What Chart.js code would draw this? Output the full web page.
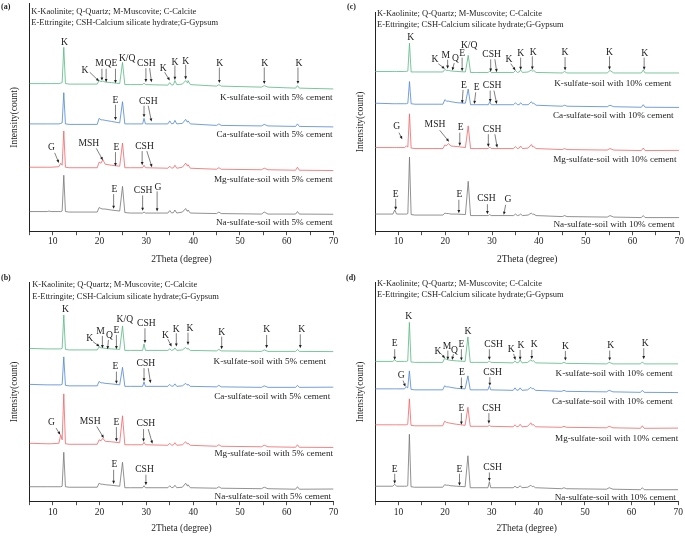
<!DOCTYPE html>
<html>
<head>
<meta charset="utf-8">
<script src="https://cdn.jsdelivr.net/npm/chart.js@4.4.1/dist/chart.umd.min.js"></script>
<style>
    body { margin: 0; background: #fff; width: 685px; height: 538px; position: relative; overflow: hidden; }
    canvas { position: absolute; }
</style>
</head>
<body>
<canvas id="pa" width="342" height="269" style="left:0;top:0"></canvas>
<canvas id="pc" width="343" height="269" style="left:342px;top:0"></canvas>
<canvas id="pb" width="342" height="269" style="left:0;top:269px"></canvas>
<canvas id="pd" width="343" height="269" style="left:342px;top:269px"></canvas>
<script>
// --- Data (2Theta in degree, intensity in arbitrary stacked counts) ---
const twoTheta = [5, 8.8, 9.2, 9.6, 11.3, 11.7, 12.0, 12.35, 12.7, 13.5,
    19.5, 19.9, 20.3, 20.7, 21.2, 22.5, 24.3, 24.9, 25.4, 26.6,
    29.2, 29.5, 29.8, 34.6, 35.0, 35.4, 35.8, 36.1, 36.5, 37.7,
    38.4, 38.7, 38.9, 39.4, 45.0, 45.5, 46.0, 54.6, 55.2, 56.0,
    61.9, 62.3, 62.7, 70];

const xTicks = [10, 20, 30, 40, 50, 60, 70];

const names5 = ['K-sulfate-soil with 5% cement', 'Ca-sulfate-soil with 5% cement',
    'Mg-sulfate-soil with 5% cement', 'Na-sulfate-soil with 5% cement'];
const names10 = ['K-sulfate-soil with 10% cement', 'Ca-sulfate-soil with 10% cement',
    'Mg-sulfate-soil with 10% cement', 'Na-sulfate-soil with 10% cement'];
const legendLines = ['K-Kaolinite; Q-Quartz; M-Muscovite; C-Calcite',
    'E-Ettringite; CSH-Calcium silicate hydrate;G-Gypsum'];

// (a) 5% cement
const aK5 = [147, 147, 147, 147, 147, 147.5, 148, 183, 147, 146.5,
    146.5, 150, 149, 149.5, 148.5, 148, 147, 168, 146, 146,
    146, 147.5, 146, 145.5, 148, 145.5, 146, 150, 146, 146.5,
    150, 148, 150, 146, 144.5, 146, 144.5, 143.5, 145, 143.5,
    142.5, 145, 142.5, 141.7];
const aCa5 = [107, 107, 107, 107, 107, 107.5, 108, 138, 107, 106.5,
    106.5, 112.5, 111, 111, 110.5, 109.5, 108, 129, 107, 107,
    107, 112.5, 107, 107, 110, 107, 107.5, 110.5, 107, 107.5,
    111.5, 109, 110, 107, 105.5, 107, 105.5, 105, 106.5, 105,
    104.5, 107, 104.5, 104];
const aMg5 = [64, 64, 64, 64, 64.5, 68, 66, 100, 64, 63.5,
    63.5, 69, 68, 71.5, 67, 66, 65, 88, 63.5, 63.5,
    63.5, 66, 63.5, 63, 65, 63, 63.5, 66, 63, 64,
    68, 65.5, 66.5, 63, 62, 63.5, 62, 61.5, 63, 61.5,
    61, 64, 61, 60.7];
const aNa5 = [20, 20, 20.5, 20, 20, 20, 20.5, 56, 20, 19.5,
    19.5, 24, 23, 22.5, 22.5, 21.5, 20.5, 45, 19, 18.5,
    18.5, 19.5, 18.5, 18.5, 21, 18.5, 19, 21.5, 18.5, 19.5,
    23, 20.5, 21.5, 18.5, 18, 19.5, 18, 17.5, 19.5, 17.5,
    17.5, 20, 17.5, 17.3];

// (b) 5% cement
const bK5 = [153.5, 153, 153, 153, 153, 153, 153.5, 187, 152.5, 152,
    152, 155, 154, 154, 153.5, 153, 152.5, 176, 151.5, 151.5,
    151.5, 158, 151.5, 151.5, 153, 151.5, 152, 154, 151.5, 152,
    154.5, 153, 153.5, 151.5, 151, 152.5, 151, 150.5, 152, 150.5,
    150.5, 152.5, 150.5, 150.3];
const bCa5 = [117.5, 117, 117, 117, 117, 117, 117.5, 145, 116.5, 116,
    116, 120.5, 119, 119, 118.5, 118, 117, 134.5, 115.5, 115.5,
    115.5, 120, 115.5, 115.5, 117.5, 115.5, 116, 118, 115.5, 116,
    118.5, 117, 117.5, 115.5, 115, 116.5, 115, 114.5, 116, 114.5,
    114.5, 116.5, 114.5, 114.7];
const bMg5 = [58.5, 58, 58, 58, 58.5, 67, 62, 108, 58, 57.5,
    57.5, 62, 61, 63.5, 60.5, 60, 59, 86, 57, 57,
    57, 59.5, 57, 56.5, 58.5, 56.5, 57, 59, 56.5, 57,
    60, 58, 58.5, 56.5, 55.5, 57, 55.5, 55, 56.5, 55,
    54.5, 57, 54.5, 54.3];
const bNa5 = [15, 15, 15, 15, 15, 15, 15.5, 49.5, 15, 14.5,
    14.5, 18.5, 17.5, 17.5, 17, 16.5, 15.5, 39.5, 14, 14,
    14, 16, 14, 14, 16, 14, 14.5, 16.5, 14, 14.5,
    18.5, 16, 17, 14, 13.5, 15, 13.5, 13, 14.5, 13,
    12.5, 15, 12.5, 12.7];

// (c) 10% cement
const cK10 = [159, 159, 159, 159, 159, 159, 159.5, 187, 158.5, 158.5,
    158.5, 161, 160, 160, 159.5, 159, 158.5, 175, 158, 158,
    158, 159.5, 158, 158, 160, 158, 158.5, 160.5, 158, 158.5,
    160.5, 159, 160, 158, 157.5, 159, 157.5, 157.5, 160, 157.5,
    157.5, 160.5, 157.5, 157.5];
const cCa10 = [127.5, 127, 127, 127, 127, 127, 127.5, 149, 127, 126.5,
    126.5, 131, 129.5, 129.5, 129, 128, 127.5, 141.5, 126, 126,
    126, 129, 126, 126, 128, 126, 126, 128, 126, 126,
    129, 127, 127.5, 125.5, 124.5, 125.5, 124.5, 124, 125.5, 124,
    123.5, 126, 123.5, 123.3];
const cMg10 = [83.5, 83.5, 83.5, 83.5, 83.5, 85, 84, 117, 83, 82.5,
    82.5, 86, 85.5, 87.5, 85, 84.5, 83.5, 105, 82.5, 82.5,
    82.5, 84, 82.5, 82.5, 84.5, 82.5, 83, 85, 82.5, 83,
    86.5, 84, 84.5, 82.5, 81.5, 82.5, 81.5, 81, 82.5, 81,
    80.5, 83, 80.5, 80.7];
const cNa10 = [17.5, 17.5, 21.5, 17.5, 17.5, 17.5, 18, 74, 17, 16.5,
    16.5, 18.5, 18, 18, 17.5, 17.5, 17, 50, 16, 16,
    16, 17, 16, 16, 17.5, 16, 16.5, 17.5, 16, 16.5,
    18.5, 17, 17.5, 16, 15, 16, 15, 14.5, 16, 14.5,
    14, 16, 14, 14];

// (d) 10% cement
const dK10 = [140.5, 140.5, 142, 140.5, 140.5, 140.5, 141, 179.5, 140, 139.5,
    139.5, 143.5, 142.5, 142, 141.5, 141, 140.5, 165, 139.5, 139.5,
    139.5, 141, 139.5, 139, 141, 139, 139.5, 142, 139, 139.5,
    142, 140.5, 141.5, 139, 138.5, 139.5, 138.5, 138, 139.5, 138,
    138, 140, 138, 138];
const dCa10 = [113, 113, 113, 113, 113, 115, 114, 131, 112.5, 112,
    112, 116, 115, 115, 114.5, 113.5, 113, 126, 112, 112,
    112, 116, 112, 111.5, 114, 111.5, 112, 114, 111.5, 112,
    114.5, 113, 113.5, 111.5, 110.5, 111.5, 110.5, 110, 111.5, 110,
    109.5, 111.5, 109.5, 109.3];
const dMg10 = [77, 77, 77, 77, 77, 77, 77.5, 103, 76.5, 76,
    76, 80.5, 79.5, 79, 78.5, 77.5, 76.5, 94.5, 75.5, 75.5,
    75.5, 76.5, 75.5, 75, 77, 75, 75.5, 77.5, 75, 75.5,
    79, 76.5, 77.5, 75, 74.5, 75.5, 74.5, 74, 75.5, 74,
    73.5, 76, 73.5, 73.7];
const dNa10 = [15.5, 15.5, 17.5, 15.5, 15.5, 15.5, 16, 67.5, 15, 14.5,
    14.5, 17, 16.5, 16.5, 16, 15.5, 15, 46, 14, 14,
    14, 20, 14, 14, 15.5, 14, 14.5, 16, 14, 14.5,
    16.5, 15, 15.5, 14, 13, 14, 13, 12.5, 14, 12.5,
    12, 14, 12, 12];

// Trace names anchored (right edge) in data units
const aNameX = [69.8, 69.8, 69.8, 69.8], aNameY = [133, 96, 52, 9];
const bNameX = [68.4, 69.3, 69.9, 69.5], bNameY = [140.3, 105.3, 47.7, 5.3];
const cNameX = [68.3, 68.8, 69.4, 69.0], cNameY = [147.3, 115, 71.7, 6.7];
const dNameX = [68.8, 68.8, 70.0, 69.5], dNameY = [128.7, 100.3, 62.7, 4.3];

// Peak notes: [text, x, y, arrows [[x0, y0, x1, y1], ...]]
const aNotes = [
    ['K', 12.5, 188.3],
    ['K', 16.9, 160, [[17.9, 158.3, 19.9, 149.3]]],
    ['M', 20.0, 166.7, [[20.5, 161.7, 20.5, 150]]],
    ['Q', 21.8, 166.7, [[21.4, 161.7, 21.4, 148.3]]],
    ['E', 23.2, 166.7, [[23.4, 161.7, 23.4, 147.3]]],
    ['K/Q', 25.9, 171.7],
    ['CSH', 30.0, 166.7, [[29.9, 162.3, 29.9, 148.3], [30.7, 162.3, 31.1, 148.3]]],
    ['K', 33.6, 161.7, [[33.9, 158.3, 35.0, 150]]],
    ['K', 36.1, 168.3, [[36.1, 165, 36.1, 150.5]]],
    ['K', 38.4, 169.3, [[38.4, 165.7, 38.4, 151]]],
    ['K', 45.7, 167, [[45.6, 163, 45.6, 147.5]]],
    ['K', 55.3, 167, [[55.2, 163, 55.2, 146.5]]],
    ['K', 62.6, 167, [[62.4, 163, 62.4, 146.5]]],
    ['E', 23.4, 130, [[23.4, 126, 23.4, 110.7]]],
    ['CSH', 30.4, 129.3, [[29.5, 125, 29.5, 113.5], [30.4, 125, 31.1, 109.3]]],
    ['G', 9.7, 83.3, [[10.4, 78.3, 11.3, 68.3]]],
    ['MSH', 17.7, 87.3, [[19.3, 82.7, 20.7, 71]]],
    ['E', 23.6, 83.3, [[23.4, 79, 23.4, 65]]],
    ['CSH', 29.6, 85, [[29.1, 80, 29.1, 66], [30.1, 80, 31.2, 64]]],
    ['E', 23.2, 41.7, [[23.0, 37.3, 23.0, 22.7]]],
    ['CSH', 29.3, 40.7, [[29.2, 36, 29.2, 20.7]]],
    ['G', 32.5, 44, [[32.3, 40, 32.3, 20]]]
];
const bNotes = [
    ['K', 12.7, 192],
    ['K', 17.9, 163.7, [[18.6, 160.3, 20.0, 155.3]]],
    ['M', 20.2, 170.3, [[20.6, 166, 20.6, 153.7]]],
    ['Q', 22.1, 166, [[21.9, 162, 21.7, 152.7]]],
    ['E', 23.6, 171.3, [[23.6, 167, 23.6, 152.7]]],
    ['K/Q', 25.4, 182.7],
    ['CSH', 30.0, 178.7, [[29.7, 173.7, 29.7, 158.7]]],
    ['K', 34.1, 166, [[34.6, 162.7, 35.4, 155.3]]],
    ['K', 36.4, 172.7, [[36.4, 168.7, 36.4, 155.3]]],
    ['K', 39.3, 173.7, [[38.9, 169.3, 38.9, 157]]],
    ['K', 46.1, 169.3, [[46.1, 165.3, 46.1, 152.7]]],
    ['K', 55.7, 172, [[55.7, 167, 55.7, 153.7]]],
    ['K', 63.2, 172.7, [[62.9, 167.7, 62.9, 153.7]]],
    ['E', 23.4, 135.3, [[23.6, 130.3, 23.6, 118]]],
    ['CSH', 29.9, 138.7, [[29.5, 133.7, 29.5, 120.5], [30.4, 133.7, 30.9, 118.7]]],
    ['G', 9.7, 79.3, [[10.7, 73.7, 11.6, 67]]],
    ['MSH', 18.0, 80.3, [[19.4, 75.3, 20.9, 63.7]]],
    ['E', 23.6, 79.3, [[23.6, 74.7, 23.6, 60.3]]],
    ['CSH', 29.9, 78.7, [[29.4, 72.7, 29.4, 60], [30.4, 72.7, 31.3, 58]]],
    ['E', 23.2, 37, [[23.0, 32, 23.0, 17.7]]],
    ['CSH', 29.6, 32, [[29.9, 27, 29.9, 16.5]]]
];
const cNotes = [
    ['K', 12.6, 192.7],
    ['K', 17.8, 170.7, [[18.5, 166.7, 19.9, 161.7]]],
    ['M', 20.1, 175, [[20.5, 170.7, 20.5, 161.7]]],
    ['Q', 22.2, 171.7, [[21.9, 167.3, 21.5, 160]]],
    ['E', 23.6, 176.7, [[23.6, 172.7, 23.6, 159.3]]],
    ['K/Q', 25.1, 185],
    ['CSH', 29.9, 176, [[29.7, 171, 29.7, 158.8], [30.6, 171, 31.0, 158.3]]],
    ['K', 33.6, 170.7, [[34.0, 166.7, 35.0, 160]]],
    ['K', 36.1, 176.7, [[36.1, 172.7, 36.1, 160.5]]],
    ['K', 38.8, 178.3, [[38.6, 174, 38.6, 160.7]]],
    ['K', 45.6, 177.7, [[45.6, 173.3, 45.6, 160]]],
    ['K', 55.1, 178.3, [[55.1, 174, 55.1, 160.7]]],
    ['K', 62.6, 176.7, [[62.5, 172.7, 62.5, 160.5]]],
    ['E', 24.0, 145, [[23.8, 140.7, 23.6, 127.3]]],
    ['E', 26.7, 142.7, [[26.5, 138.3, 26.2, 126.7]]],
    ['CSH', 30.0, 145, [[29.6, 140, 29.6, 128.5], [30.4, 140, 31.0, 126.7]]],
    ['G', 9.6, 104, [[10.1, 98.3, 10.8, 91.7]]],
    ['MSH', 17.8, 106, [[18.8, 100.7, 20.8, 89.3]]],
    ['E', 23.3, 103.3, [[23.1, 98.3, 23.1, 85]]],
    ['CSH', 30.0, 101.7, [[29.2, 96.7, 29.2, 84], [30.6, 96.7, 31.1, 83.3]]],
    ['E', 9.4, 37.3, [[9.4, 32.7, 9.4, 21.5]]],
    ['E', 23.0, 36.7, [[22.9, 31.7, 22.9, 18.3]]],
    ['CSH', 28.8, 32.7, [[29.0, 27.3, 29.0, 17.3]]],
    ['G', 33.4, 31.7, [[32.9, 26.7, 32.5, 16.7]]]
];
const dNotes = [
    ['E', 9.2, 158, [[9.2, 152.7, 9.2, 142]]],
    ['K', 12.2, 185.3],
    ['K', 18.5, 150.3, [[19.2, 147.7, 20.0, 143.7]]],
    ['M', 20.4, 155.3, [[20.6, 151.3, 20.6, 142]]],
    ['Q', 22.0, 151.3, [[21.8, 147.7, 21.5, 142]]],
    ['E', 23.5, 157, [[23.5, 152.7, 23.5, 141.3]]],
    ['K', 24.9, 170.3],
    ['CSH', 30.4, 157, [[29.5, 152.7, 29.5, 142]]],
    ['K', 34.2, 152, [[34.7, 148, 35.1, 142]]],
    ['K', 36.3, 156, [[36.1, 152, 36.1, 142]]],
    ['K', 39.1, 157, [[38.6, 152, 38.6, 142.7]]],
    ['K', 45.8, 155.3, [[45.8, 151, 45.8, 141.3]]],
    ['K', 55.5, 156, [[55.3, 151.3, 55.3, 141.3]]],
    ['K', 62.9, 158, [[62.6, 153.7, 62.6, 142.7]]],
    ['G', 10.6, 126, [[11.0, 121.3, 11.5, 115]]],
    ['E', 23.6, 129.3, [[23.5, 124.3, 23.5, 112.7]]],
    ['CSH', 30.2, 129.3, [[29.6, 124.7, 29.6, 116]]],
    ['E', 23.5, 93.7, [[23.5, 88.7, 23.5, 77]]],
    ['CSH', 30.0, 93.7, [[29.4, 88.7, 29.4, 78]]],
    ['E', 9.2, 32.7, [[9.2, 28, 9.2, 18]]],
    ['E', 23.1, 32.7, [[23.1, 28, 23.1, 16]]],
    ['CSH', 30.2, 34.7, [[29.5, 29.3, 29.5, 20.5]]]
];

// --- Styles ---
const SERIF = "'Liberation Serif', 'Times New Roman', serif";
const INK = '#1e1e1e';
const LINE_COLORS = ['#58b884', '#5087d6', '#f06468', '#767676'];

const panels = [
    { canvas: 'pa', tag: '(a)', tagPos: [1, 7], series: [aK5, aCa5, aMg5, aNa5], names: names5,
      nameX: aNameX, nameY: aNameY, notes: aNotes, legendX: 5.4, legendY: [218, 207],
      yMax: 227, pad: { left: 9, right: 8.5, top: 3, bottom: 0 }, tickPad: 1, titlePad: { top: 5, bottom: 4 } },
    { canvas: 'pc', tag: '(c)', tagPos: [5, 7], series: [cK10, cCa10, cMg10, cNa10], names: names10,
      nameX: cNameX, nameY: cNameY, notes: cNotes, legendX: 5.4, legendY: [216, 205],
      yMax: 218, pad: { left: 12.7, right: 5.7, top: 12, bottom: 0 }, tickPad: 1, titlePad: { top: 5, bottom: 4 } },
    { canvas: 'pb', tag: '(b)', tagPos: [1, 9], series: [bK5, bCa5, bMg5, bNa5], names: names5,
      nameX: bNameX, nameY: bNameY, notes: bNotes, legendX: 5.6, legendY: [217, 205.3],
      yMax: 220, pad: { left: 9, right: 8.5, top: 13, bottom: 0 }, tickPad: 2, titlePad: { top: 2, bottom: 4 } },
    { canvas: 'pd', tag: '(d)', tagPos: [4, 9], series: [dK10, dCa10, dMg10, dNa10], names: names10,
      nameX: dNameX, nameY: dNameY, notes: dNotes, legendX: 5.4, legendY: [218, 207],
      yMax: 220, pad: { left: 12.7, right: 5.7, top: 13, bottom: 0 }, tickPad: 2, titlePad: { top: 2, bottom: 4 } }
];

/**
 * Draws a thin arrow with a small filled head at (x1, y1)
 */
const drawArrow = (ctx, x0, y0, x1, y1) => {
    const ang = Math.atan2(y1 - y0, x1 - x0);
    const len = 3.2, half = 1.4;
    ctx.beginPath();
    ctx.moveTo(x0, y0);
    ctx.lineTo(x1 - Math.cos(ang) * len * 0.8, y1 - Math.sin(ang) * len * 0.8);
    ctx.stroke();
    ctx.beginPath();
    ctx.moveTo(x1, y1);
    ctx.lineTo(x1 - Math.cos(ang) * len - Math.sin(ang) * half, y1 - Math.sin(ang) * len + Math.cos(ang) * half);
    ctx.lineTo(x1 - Math.cos(ang) * len + Math.sin(ang) * half, y1 - Math.sin(ang) * len - Math.cos(ang) * half);
    ctx.closePath();
    ctx.fill();
};

// Per-chart plugin for peak labels, trace names, legend text and panel tag
const makeNotes = (p) => ({
    id: 'xrdNotes',
    afterDatasetsDraw(chart) {
        const { ctx, scales: { x, y } } = chart;
        ctx.save();
        ctx.fillStyle = INK;
        ctx.strokeStyle = '#2a2a2a';
        ctx.lineWidth = 0.6;
        ctx.textBaseline = 'middle';

        ctx.font = `9.6px ${SERIF}`;
        ctx.textAlign = 'center';
        p.notes.forEach(([text, tx, ty, arrows]) => {
            ctx.fillText(text, x.getPixelForValue(tx), y.getPixelForValue(ty));
            (arrows || []).forEach(a => drawArrow(ctx,
                x.getPixelForValue(a[0]), y.getPixelForValue(a[1]),
                x.getPixelForValue(a[2]), y.getPixelForValue(a[3])));
        });

        ctx.font = `9.2px ${SERIF}`;
        ctx.textAlign = 'right';
        p.names.forEach((n, i) => {
            ctx.fillText(n, x.getPixelForValue(p.nameX[i]), y.getPixelForValue(p.nameY[i]));
        });

        ctx.font = `8.5px ${SERIF}`;
        ctx.textAlign = 'left';
        legendLines.forEach((l, i) => {
            ctx.fillText(l, x.getPixelForValue(p.legendX), y.getPixelForValue(p.legendY[i]));
        });

        ctx.font = `bold 8px ${SERIF}`;
        ctx.fillText(p.tag, p.tagPos[0], p.tagPos[1]);
        ctx.restore();
    }
});

panels.forEach(p => {
    const ctx = document.getElementById(p.canvas).getContext('2d');
    new Chart(ctx, {
        type: 'line',
        data: {
            datasets: p.series.map((s, i) => ({
                label: p.names[i],
                data: twoTheta.map((t, k) => ({ x: t, y: s[k] })),
                borderColor: LINE_COLORS[i],
                borderWidth: 0.8,
                pointRadius: 0,
                tension: 0,
                fill: false
            }))
        },
        options: {
            responsive: false,
            animation: false,
            layout: { padding: p.pad },
            plugins: { legend: { display: false }, tooltip: { enabled: false } },
            scales: {
                x: {
                    type: 'linear',
                    min: 5,
                    max: 70,
                    ticks: {
                        stepSize: 5,
                        autoSkip: false,
                        maxRotation: 0,
                        padding: p.tickPad,
                        color: INK,
                        font: { family: SERIF, size: 9.5 },
                        callback: v => xTicks.includes(v) ? String(v) : ''
                    },
                    grid: { drawOnChartArea: false, tickLength: 3.5, color: '#222', lineWidth: 0.8 },
                    border: { color: '#222', width: 1 },
                    title: {
                        display: true,
                        text: '2Theta (degree)',
                        color: INK,
                        font: { family: SERIF, size: 9.5 },
                        padding: p.titlePad
                    }
                },
                y: {
                    min: 0,
                    max: p.yMax,
                    ticks: { display: false },
                    grid: { display: false, drawTicks: false },
                    border: { color: '#222', width: 1 },
                    title: {
                        display: true,
                        text: 'Intensity(count)',
                        color: INK,
                        font: { family: SERIF, size: 9.5 },
                        padding: { top: 0, bottom: 9 }
                    }
                }
            }
        },
        plugins: [makeNotes(p)]
    });
});
</script>
</body>
</html>
